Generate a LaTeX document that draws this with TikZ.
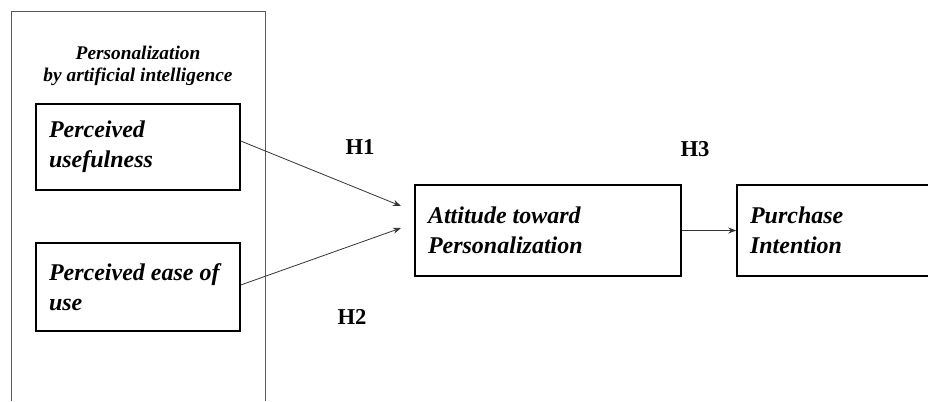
\documentclass[tikz,border=0pt]{standalone}
\usepackage{fontspec}
\setmainfont{Liberation Serif}
\usetikzlibrary{arrows.meta}

\tikzset{
  construct/.style={draw=black, line width=1.1pt, inner xsep=9.75pt, inner ysep=0pt,
    align=flush left, font=\fontsize{18}{22.5}\selectfont\bfseries\itshape},
  hyp/.style={font=\fontsize{17}{19}\selectfont\bfseries},
  link/.style={draw=black!80, line width=0.6pt, -{Stealth[length=6pt,width=4.5pt]}}
}

\begin{document}
\begin{tikzpicture}[x=0.75pt,y=-0.75pt]
  \useasboundingbox (0,0) rectangle (928,401);
  \clip (0,0) rectangle (928,401);

  % Frame of the AI personalization group (open at the bottom)
  \draw[black!65, line width=0.7pt] (11,401) |- (265,11) -- (265,401);
  \node[align=center, font=\fontsize{14.5}{16.5}\selectfont\bfseries\itshape] (aihead) at (138,66)
    {Personalization\\by artificial intelligence};

  % Constructs
  \node[construct, text width=133.5pt, minimum height=64.5pt] (usefulness) at (138,147)
    {Perceived\\usefulness};
  \node[construct, text width=133.5pt, minimum height=66pt] (easeofuse) at (138,287)
    {Perceived ease of\\use};
  \node[construct, text width=180pt, minimum height=68.25pt] (attitude) at (548,230.5)
    {Attitude toward\\Personalization};
  \node[construct, text width=175.5pt, minimum height=68.25pt] (intention) at (867,230.5)
    {Purchase\\Intention};

  % Hypotheses
  \coordinate (h1end) at (401,206);
  \coordinate (h2end) at (401,228);
  \draw[link] ([yshift=4.5pt]usefulness.east) -- (h1end);
  \draw[link] ([yshift=1.5pt]easeofuse.east) -- (h2end);
  \draw[link] (attitude.east) -- (intention.west);

  \node[hyp] (h1) at (360,147) {H1};
  \node[hyp] (h2) at (352,317) {H2};
  \node[hyp] (h3) at (695,149) {H3};
\end{tikzpicture}
\end{document}
